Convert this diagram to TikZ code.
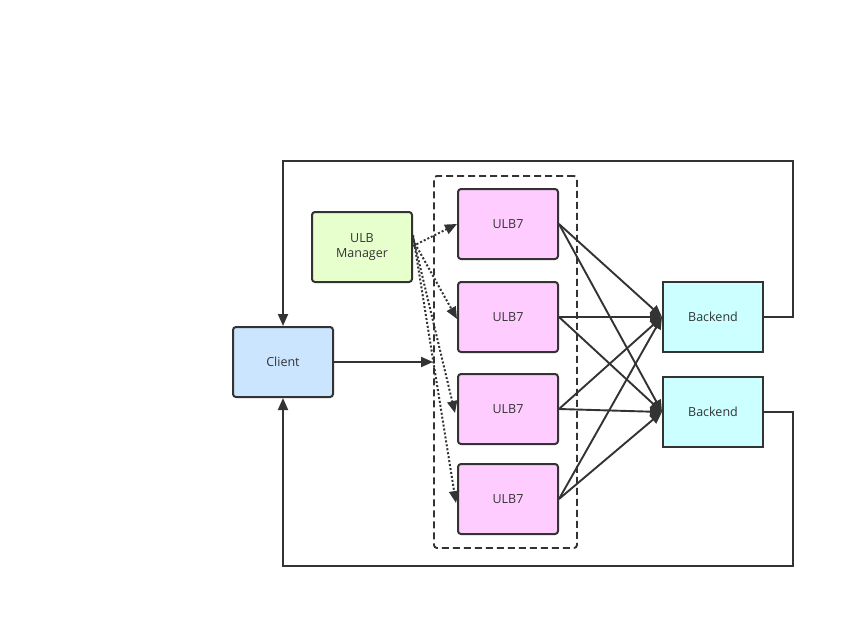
\documentclass[tikz,border=0pt]{standalone}
\usepackage{fontspec}
\setmainfont{Open Sans}
\usetikzlibrary{arrows.meta}
\definecolor{strk}{HTML}{333333}
\definecolor{mgr}{HTML}{E6FFCC}
\definecolor{ulb}{HTML}{FFCCFF}
\definecolor{cli}{HTML}{CCE5FF}
\definecolor{bk}{HTML}{CCFFFF}
\begin{document}
\begin{tikzpicture}[x=1pt,y=-1pt,
  box/.style={draw=strk,line width=2pt,rounded corners=3pt,minimum width=100pt,minimum height=70pt,inner sep=0pt,font=\fontsize{12.5}{15}\selectfont,text=strk,align=center},
  conn/.style={draw=strk,line width=1.9pt,-{Triangle[length=12pt,width=10pt]}},
  dconn/.style={draw=strk,line width=2pt,dash pattern=on 2pt off 2pt,-{Triangle[length=12pt,width=10pt]}}]
\useasboundingbox (0,0) rectangle (855,627);
\node[box,fill=mgr] (mgr) at (362,247) {ULB\\Manager};
\node[draw=strk,line width=1.9pt,dash pattern=on 7pt off 4pt,rounded corners=3pt,minimum width=143pt,minimum height=372pt,inner sep=0pt] (grp) at (505.5,362) {};
\node[box,fill=ulb] (u1) at (508,224) {ULB7};
\node[box,fill=ulb] (u2) at (508,317) {ULB7};
\node[box,fill=ulb] (u3) at (508,409) {ULB7};
\node[box,fill=ulb] (u4) at (508,499) {ULB7};
\node[box,fill=cli] (cl) at (283,362) {Client};
\node[box,fill=bk,rounded corners=0pt] (b1) at (713,317) {Backend};
\node[box,fill=bk,rounded corners=0pt] (b2) at (713,412) {Backend};
% loops
\coordinate (t1) at (793,161);
\coordinate (t2) at (283,161);
\coordinate (s1) at (793,566);
\coordinate (s2) at (283,566);
\draw[conn] (b1.east) -| (t1) -- (t2) -- (cl.north);
\draw[conn] (b2.east) -| (s1) -- (s2) -- (cl.south);
\draw[conn] (cl.east) -- (grp.west);
% manager dotted
\draw[dconn] ([yshift=1pt]mgr.east) -- (u1.west);
\draw[dconn] ([yshift=7pt]mgr.east) -- ([yshift=-2pt]u2.west);
\draw[dconn] ([yshift=10pt]mgr.east) -- ([xshift=-2pt,yshift=-4pt]u3.west);
\draw[dconn] ([yshift=12pt]mgr.east) -- ([xshift=-1pt,yshift=-4pt]u4.west);
% ulb to backend
\foreach \u in {u1,u2,u3,u4}{
  \draw[conn] (\u.east) -- (b1.west);
  \draw[conn] (\u.east) -- (b2.west);
}
\end{tikzpicture}
\end{document}
